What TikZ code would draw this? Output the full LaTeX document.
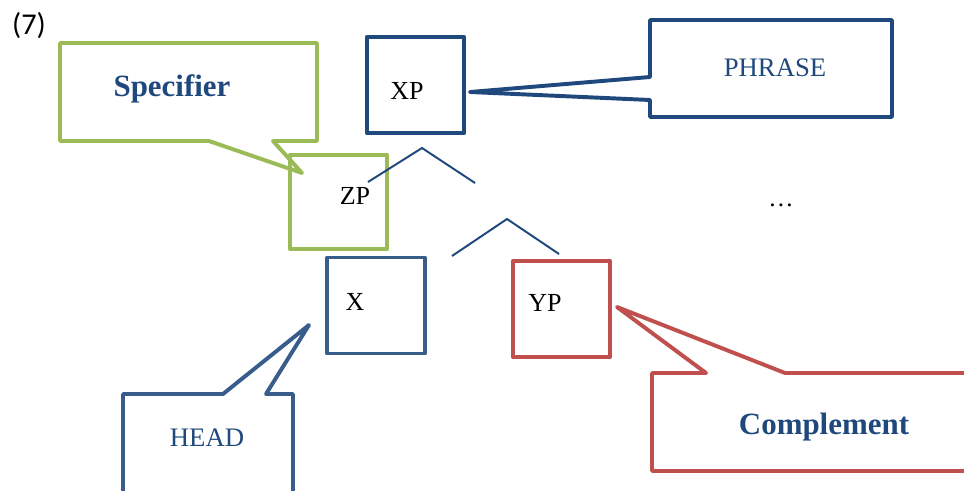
\documentclass[tikz,border=0pt]{standalone}
\usepackage{fontspec}
\setmainfont{Liberation Serif}
\newfontfamily\exfont{Carlito}
\usepackage{tikz}
\definecolor{phraseblue}{HTML}{1F497D}
\definecolor{headblue}{HTML}{385D8A}
\definecolor{specgreen}{HTML}{9BBB59}
\definecolor{compred}{HTML}{C0504D}

\begin{document}
\begin{tikzpicture}[x=0.025cm,y=-0.025cm,line join=round,
                    line width=2.8pt]
\tikzstyle{box}=[draw,minimum width=2.43cm,minimum height=2.4cm,inner sep=0pt]
\tikzstyle{lbl}=[anchor=base,inner sep=0pt,font=\fontsize{18.5}{22}\selectfont]
\tikzstyle{tag}=[anchor=base,inner sep=0pt,text=phraseblue,font=\fontsize{19}{22}\selectfont]
\tikzstyle{btag}=[anchor=base,inner sep=0pt,text=phraseblue,font=\fontsize{22}{26}\selectfont\bfseries]
\tikzstyle{branch}=[draw=phraseblue,line width=1.4pt]
\clip (0,0) rectangle (964,491);
\node[anchor=base,inner sep=0pt,font=\exfont\fontsize{21.5}{24}\selectfont] (ex) at (29,35) {(7)};
% callouts
\draw[specgreen] (60,43) -- (317,43) -- (317,141) -- (273,141) -- (302,173)
      -- (209,141) -- (60,141) -- cycle;
\draw[phraseblue] (650,20) -- (892,20) -- (892,117) -- (650,117) -- (650,100)
      -- (470,92) -- (650,77) -- cycle;
\draw[headblue] (123,394) -- (223,394) -- (309,325) -- (266,394) -- (293,394)
      -- (293,500) -- (123,500) -- cycle;
\draw[compred] (652,373) -- (706,373) -- (617,307) -- (785,373) -- (980,373)
      -- (980,471) -- (652,471) -- cycle;
\node[btag] (spec) at (172,97) {Specifier};
\node[tag] (phrase) at (775,77) {PHRASE};
\node[tag] (head) at (207,446) {HEAD};
\node[btag] (comp) at (824,434) {Complement};
% tree
\node[box,draw=phraseblue] (xp) at (415.5,85) {};
\node[box,draw=specgreen,minimum height=2.35cm] (zp) at (338.5,202) {};
\node[box,draw=headblue] (x) at (376,305.5) {};
\node[box,draw=compred] (yp) at (561.5,309) {};
\node[lbl] (xpt) at (407,100) {XP};
\node[lbl] (zpt) at (355,205) {ZP};
\node[lbl] (xt) at (355,310) {X};
\node[lbl] (ypt) at (545,311) {YP};
\node[anchor=base,inner sep=0pt,font=\fontsize{18}{20}\selectfont] (dots) at (781,206) {\dots};
\coordinate (top) at (422,148);
\coordinate (top-l) at (368,182);
\coordinate (top-r) at (475,183);
\coordinate (bar) at (507,219);
\coordinate (bar-l) at (452,256);
\coordinate (bar-r) at (559,254);
\path[branch] (top-l) -- (top) -- (top-r)
              (bar-l) -- (bar) -- (bar-r);
\end{tikzpicture}
\end{document}
